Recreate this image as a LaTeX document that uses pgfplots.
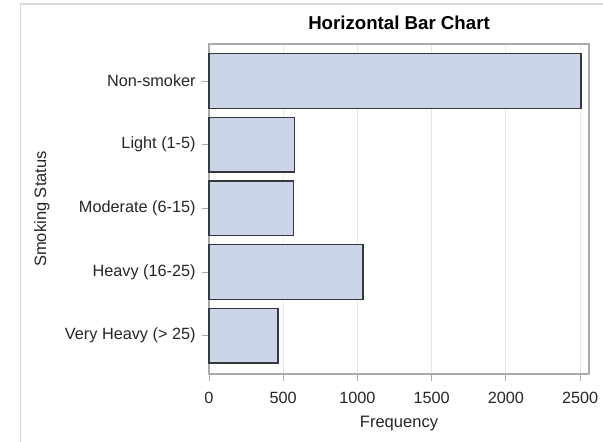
\documentclass[border=0pt]{standalone}
\usepackage{pgfplots}
\pgfplotsset{compat=1.18}
\usepackage{fontspec}
\setmainfont{Liberation Sans}
\definecolor{barfill}{RGB}{203,213,232}
\definecolor{baredge}{RGB}{55,55,62}
\definecolor{framec}{RGB}{170,170,170}
\definecolor{gridc}{RGB}{232,232,232}
\definecolor{borderc}{RGB}{216,216,216}
\begin{document}
\begin{tikzpicture}
\useasboundingbox (0pt,0pt) rectangle (452.25pt,331.5pt);
\draw[borderc, line width=1.1pt] (15.4pt,0pt) -- (15.4pt,328.5pt) -- (452.25pt,328.5pt);
\begin{axis}[
  at={(156.75pt,51pt)}, anchor=south west,
  scale only axis, width=285pt, height=247.5pt,
  xbar, bar width=0.86,
  xmin=0, xmax=2560,
  ymin=-0.58, ymax=4.6, y dir=reverse,
  ytick={0,1,2,3,4},
  yticklabels={Non-smoker,Light (1-5),Moderate (6-15),Heavy (16-25),Very Heavy (> 25)},
  xtick={0,500,1000,1500,2000,2500},
  scaled x ticks=false,
  /pgf/number format/assume math mode=true,
  /pgf/number format/1000 sep={},
  tick align=outside, tick pos=left,
  major tick length=5.5pt,
  every tick/.style={framec, line width=0.6pt},
  axis line style={framec, line width=0.9pt},
  xmajorgrids, grid style={gridc, line width=0.8pt},
  tick label style={font=\fontsize{12.2}{14}\selectfont, text=black!85},
  xticklabel style={yshift=-4.5pt},
  yticklabel style={xshift=-1pt},
  xlabel={Frequency}, ylabel={Smoking Status},
  label style={font=\fontsize{12.4}{14}\selectfont, text=black!85},
  xlabel style={at={(axis description cs:0.5,-0.1636)}, anchor=base},
  ylabel style={at={(axis description cs:-0.44,0.5)}, anchor=center},
  title={\textbf{Horizontal Bar Chart}},
  title style={font=\fontsize{14}{16}\selectfont, yshift=1pt},
  clip=false,
]
\addplot[fill=barfill, draw=baredge, line width=1.1pt] coordinates {
  (2507,0) (575,1) (568,2) (1036,3) (466,4)
};
\end{axis}
\end{tikzpicture}
\end{document}
